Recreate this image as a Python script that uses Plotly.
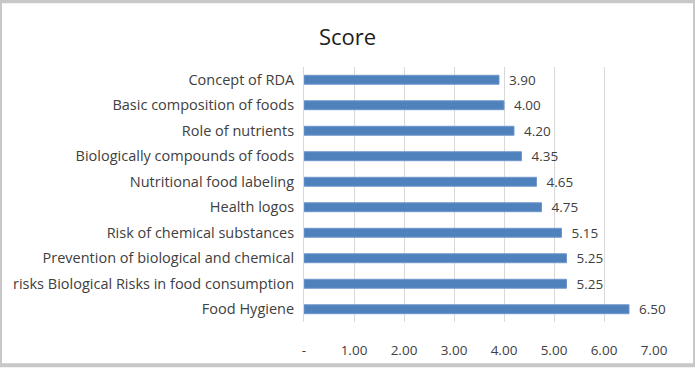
import plotly.graph_objects as go

categories = [
    "Concept of RDA",
    "Basic composition of foods",
    "Role of nutrients",
    "Biologically compounds of foods",
    "Nutritional food labeling",
    "Health logos",
    "Risk of chemical substances",
    "Prevention of biological and chemical",
    "risks Biological Risks in food consumption",
    "Food Hygiene",
]
scores = [3.90, 4.00, 4.20, 4.35, 4.65, 4.75, 5.15, 5.25, 5.25, 6.50]
tick_vals = [0, 1, 2, 3, 4, 5, 6, 7]
tick_text = ["-", "1.00", "2.00", "3.00", "4.00", "5.00", "6.00", "7.00"]

W, H = 695, 371
ML, MR, MT, MB = 304, 41, 67, 44
PW, PH = W - ML - MR, H - MT - MB

font_family = "Open Sans, Lato, sans-serif"
txt_color = "#404040"

fig = go.Figure(
    go.Bar(
        x=scores,
        y=categories,
        orientation="h",
        width=0.35,
        marker=dict(color="#4F81BD", line=dict(color="#6F97CC", width=1)),
        text=["\u00a0\u00a0" + f"{v:.2f}" for v in scores],
        textposition="outside",
        constraintext="none",
        textfont=dict(size=13.5, color=txt_color, family=font_family),
        cliponaxis=False,
    )
)

fig.update_layout(
    width=W,
    height=H,
    margin=dict(l=ML, r=MR, t=MT, b=MB),
    paper_bgcolor="white",
    plot_bgcolor="white",
    showlegend=False,
    title=dict(
        text="Score",
        x=0.5,
        xref="container",
        y=1 - 37 / H,
        yref="container",
        yanchor="middle",
        xanchor="center",
        font=dict(size=22, color="#202020", family=font_family),
    ),
    font=dict(family=font_family, color=txt_color, size=13),
    xaxis=dict(
        range=[0, 7],
        tickvals=tick_vals,
        ticktext=tick_text,
        showgrid=True,
        gridcolor="#D9D9D9",
        gridwidth=1,
        zeroline=False,
        ticks="outside",
        ticklen=16,
        tickcolor="rgba(0,0,0,0)",
        tickfont=dict(size=13.5, color=txt_color),
        showline=False,
    ),
    yaxis=dict(
        autorange="reversed",
        showgrid=False,
        showline=True,
        linecolor="#D9D9D9",
        linewidth=1,
        ticks="outside",
        ticklen=6,
        tickcolor="rgba(0,0,0,0)",
        tickfont=dict(size=14.5, color=txt_color),
    ),
)

# outer chart border
fig.add_shape(
    type="rect",
    xref="paper",
    yref="paper",
    x0=-ML / PW,
    x1=1 + MR / PW,
    y0=-MB / PH,
    y1=1 + MT / PH,
    line=dict(color="#C8C8C8", width=4),
    fillcolor="rgba(0,0,0,0)",
    layer="above",
)

fig.write_html(
    "out.html",
    config={"displayModeBar": False},
    post_script="document.body.style.margin='0';document.body.style.padding='0';",
)
